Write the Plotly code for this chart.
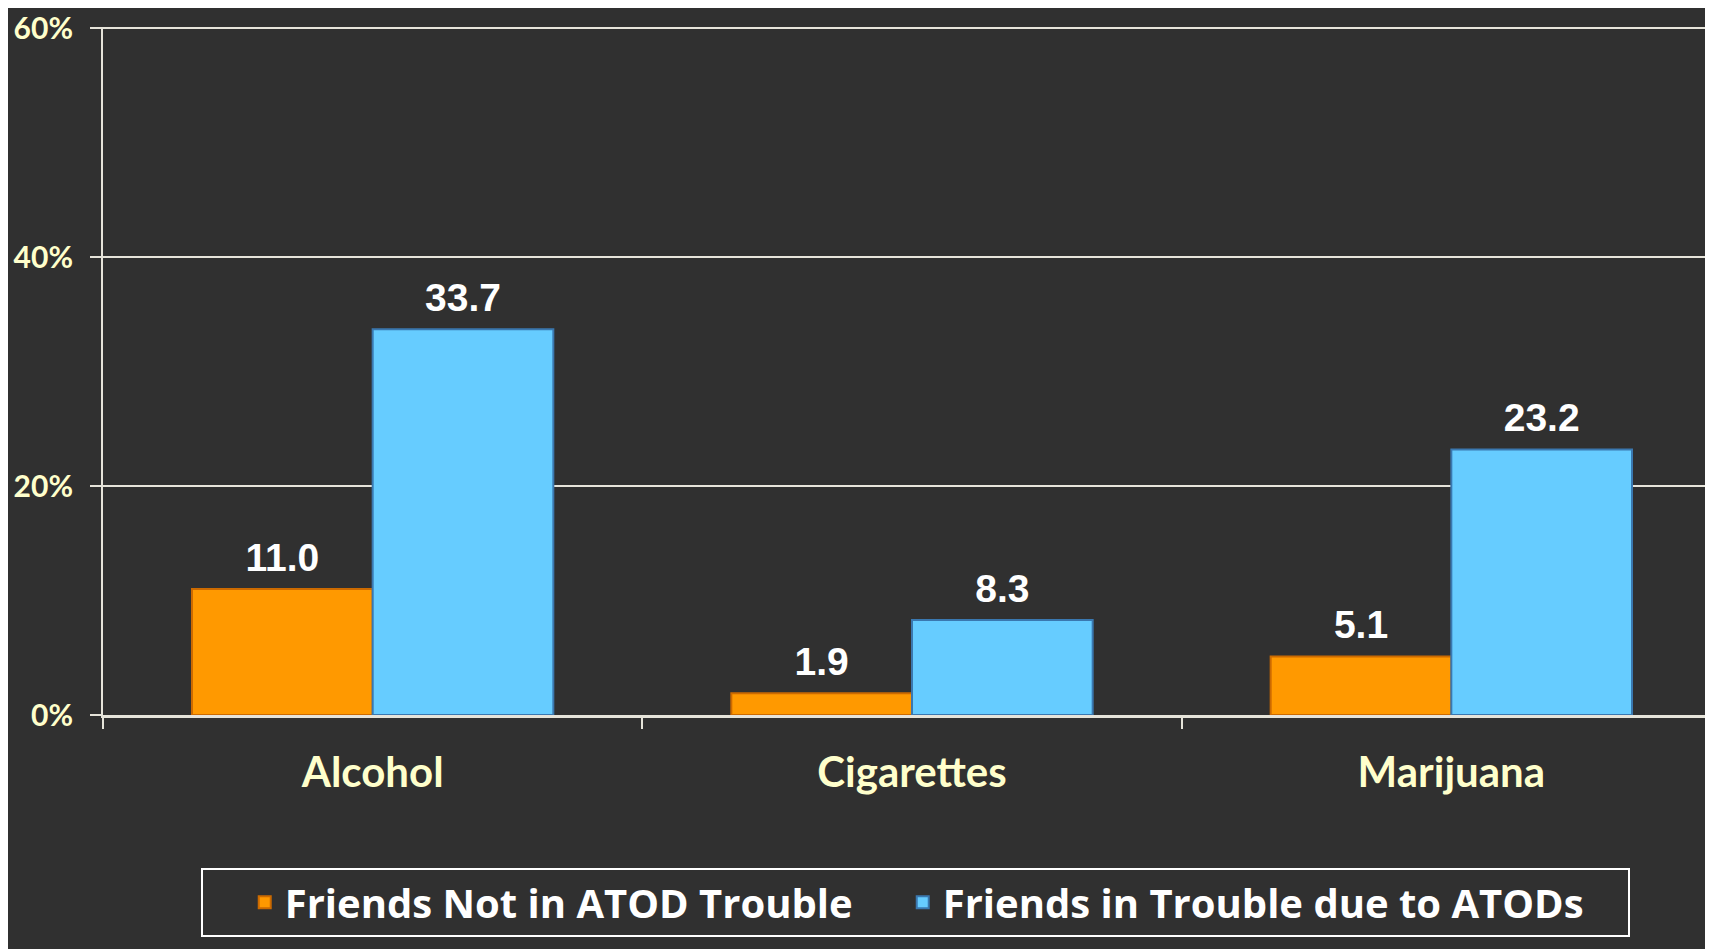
import plotly.graph_objects as go

categories = ['Alcohol', 'Cigarettes', 'Marijuana']
not_in_trouble = [11.0, 1.9, 5.1]
in_trouble = [33.7, 8.3, 23.2]
y_ticks = [0, 20, 40, 60]
y_tick_text = ['0%', '20%', '40%', '60%']

bg = '#303030'
cream = '#ffffcc'
grid = '#e6e4da'
label_font = dict(family='Liberation Sans Narrow, Arial Narrow, Arial', size=39, color='white', weight='bold')

fig = go.Figure()
series = [
    ('Friends Not in ATOD Trouble', not_in_trouble, '#ff9900', '#cc6a00', 'a', 571),
    ('Friends in Trouble due to ATODs', in_trouble, '#66ccff', '#3a78b0', 'b', 680),
]
for name, vals, fill, edge, grp, lw in series:
    fig.add_trace(go.Bar(
        x=categories, y=vals, name=name, offsetgroup=grp, legendwidth=lw,
        marker=dict(color=fill, line=dict(color=edge, width=2)),
    ))
# value labels sit a bit above the bars, like the original slide
for name, vals, fill, edge, grp, lw in series:
    fig.add_trace(go.Scatter(
        x=categories, y=vals, mode='markers+text', offsetgroup=grp,
        text=[f'{v:.1f}' for v in vals], textposition='top center', textfont=label_font,
        marker=dict(size=12, color='rgba(0,0,0,0)'), showlegend=False, hoverinfo='skip',
        cliponaxis=False,
    ))

fig.update_layout(
    width=1713, height=949,
    paper_bgcolor=bg, plot_bgcolor=bg,
    margin=dict(l=95, r=0, t=19, b=242),
    barmode='group', bargap=0.33, bargroupgap=0,
    scattermode='group', scattergap=0.33,
    showlegend=True,
    legend=dict(
        orientation='h', x=0.502, xanchor='center', y=-0.222, yanchor='top',
        bordercolor='white', borderwidth=2, bgcolor='rgba(0,0,0,0)',
        font=dict(family='Open Sans, DejaVu Sans', size=40, color='white', weight='bold'),
        indentation=42,
    ),
    font=dict(family='Lato, DejaVu Sans', color=cream),
)
fig.update_xaxes(
    automargin=False,
    showline=True, linecolor=grid, linewidth=3,
    ticks='outside', tickson='boundaries', ticklen=11, tickcolor=grid, tickwidth=2,
    tickfont=dict(family='Lato, DejaVu Sans', size=42, color=cream, weight='bold'),
    ticklabelstandoff=19,
    showgrid=False, zeroline=False,
)
fig.update_yaxes(
    automargin=False, ticklabeloverflow='allow',
    range=[0, 60.1], tickvals=y_ticks, ticktext=y_tick_text,
    showline=True, linecolor=grid, linewidth=2,
    ticks='outside', ticklen=11, tickcolor=grid, tickwidth=2,
    showgrid=True, gridcolor=grid, gridwidth=2, zeroline=False,
    tickfont=dict(family='Lato, DejaVu Sans', size=30, color=cream, weight='bold'),
    ticklabelstandoff=11,
)

fig.write_html('out.html')
